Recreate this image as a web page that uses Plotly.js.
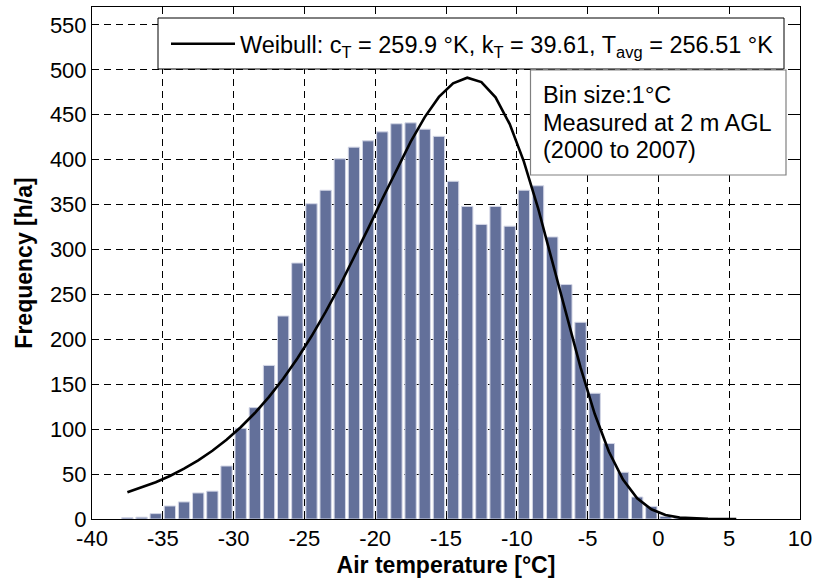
<!DOCTYPE html>
<html><head><meta charset="utf-8">
<script src="https://cdn.plot.ly/plotly-3.0.1.min.js"></script>
<style>html,body{margin:0;padding:0;background:#fff}#chart{width:814px;height:583px}</style>
</head><body><div id="chart"></div>
<script>
// Histogram bins (bin centres, °C) and measured frequency (hours per year)
const binCenters = [-37.5,-36.5,-35.5,-34.5,-33.5,-32.5,-31.5,-30.5,-29.5,-28.5,
  -27.5,-26.5,-25.5,-24.5,-23.5,-22.5,-21.5,-20.5,-19.5,-18.5,
  -17.5,-16.5,-15.5,-14.5,-13.5,-12.5,-11.5,-10.5,-9.5,-8.5,
  -7.5,-6.5,-5.5,-4.5,-3.5,-2.5,-1.5,-0.5,0.5,1.5];
const hoursPerYear = [1.5,2,6,14.5,19,29,31,59,101,124,
  171,226,285,351,366,401,414,421,431,440,
  441,434,426,376,348,328,348,326,366,371,
  314,261,219,140,84,52,24.5,14,3,1];
// Weibull fit curve
const fitTemps = [-37.5,-36.5,-35.5,-34.5,-33.5,-32.5,-31.5,-30.5,-29.5,-28.5,
  -27.5,-26.5,-25.5,-24.5,-23.5,-22.5,-21.5,-20.5,-19.5,-18.5,
  -17.5,-16.5,-15.5,-14.5,-13.5,-12.5,-11.5,-10.5,-9.5,-8.5,
  -7.5,-6.5,-5.5,-4.5,-3.5,-2.5,-1.5,-0.5,0.5,1.5,2.5,3.5,4.5,5.5];
const fitValues = [29.8,35.0,41.0,47.9,56.0,65.2,75.9,88.2,102.2,118.0,
  136.0,156.1,178.6,203.4,230.5,259.7,290.8,323.2,356.2,388.9,
  419.8,447.4,469.9,485.1,491.3,486.4,469.4,439.6,397.9,346.2,
  287.8,227.2,168.8,117.1,75.1,43.9,23.1,10.8,4.4,1.5,0.4,0.1,0,0];
const xTicks = [-40,-35,-30,-25,-20,-15,-10,-5,0,5,10];
const yTicks = [0,50,100,150,200,250,300,350,400,450,500,550];
const legendLabel = 'Weibull: c<sub>T</sub> = 259.9 °K, k<sub>T</sub> = 39.61, T<sub>avg</sub> = 256.51 °K';
const noteLines = ['Bin size:1°C', 'Measured at 2 m AGL', '(2000 to 2007)'];
const xTitle = 'Air temperature [°C]';
const yTitle = 'Frequency [h/a]';

const FONT = 'Liberation Sans, Arial, Helvetica, sans-serif';

// plot-area geometry (pixels) used to place boxes in paper coordinates
const PL = 92, PR = 800, PT = 7, PB = 519;
const px = v => (v - PL) / (PR - PL);
const py = v => (PB - v) / (PB - PT);

const traces = [
  {
    type: 'bar', x: binCenters, y: hoursPerYear, width: 0.8,
    marker: {color: '#63709a', line: {color: '#d3d6e6', width: 1}},
    showlegend: false, hoverinfo: 'x+y'
  },
  {
    type: 'scatter', mode: 'lines', x: fitTemps, y: fitValues,
    name: legendLabel, line: {color: '#000', width: 2.6}
  }
];

const axisCommon = {
  showline: true, linecolor: '#000', linewidth: 1, mirror: 'ticks',
  ticks: 'inside', ticklen: 6, tickcolor: '#000', tickwidth: 1,
  showgrid: true, gridcolor: '#000', gridwidth: 1, griddash: '7px,5px',
  zeroline: false, tickfont: {family: FONT, size: 22, color: '#000'},
  automargin: false, fixedrange: true
};

const noteCentres = [95, 122.5, 149.5];
const annotations = noteLines.map((t, i) => ({
  xref: 'paper', yref: 'paper', x: px(541), y: py(noteCentres[i]),
  xanchor: 'left', yanchor: 'middle', align: 'left',
  text: t, showarrow: false,
  font: {family: FONT, size: 23.5, color: '#000'}
}));

const layout = {
  width: 814, height: 583,
  margin: {l: PL, r: 814 - PR, t: PT, b: 583 - PB},
  paper_bgcolor: '#fff', plot_bgcolor: '#fff',
  font: {family: FONT, color: '#000'},
  bargap: 0,
  xaxis: Object.assign({}, axisCommon, {
    range: [-40, 10], tickmode: 'array', tickvals: xTicks, ticktext: xTicks.map(String),
    title: {text: xTitle, font: {family: FONT, size: 23, weight: 'bold', color: '#000'}, standoff: 6}
  }),
  yaxis: Object.assign({}, axisCommon, {
    range: [0, 570], tickmode: 'array', tickvals: yTicks, ticktext: yTicks.map(String),
    title: {text: yTitle, font: {family: FONT, size: 23, weight: 'bold', color: '#000'}, standoff: 10}
  }),
  legend: {
    x: px(166), y: py(44), xanchor: 'left', yanchor: 'middle',
    itemwidth: 64,
    bgcolor: 'rgba(0,0,0,0)', borderwidth: 0,
    font: {family: FONT, size: 23.5, color: '#000'}
  },
  shapes: [
    {type: 'rect', xref: 'paper', yref: 'paper', layer: 'above',
     x0: px(158), x1: px(784), y0: py(69), y1: py(18),
     line: {color: '#000', width: 1}, fillcolor: '#fff'},
    {type: 'rect', xref: 'paper', yref: 'paper', layer: 'above',
     x0: px(530.5), x1: px(786), y0: py(175), y1: py(70),
     line: {color: '#808080', width: 1.2}, fillcolor: '#fff'}
  ],
  annotations: annotations
};

Plotly.newPlot('chart', traces, layout, {displayModeBar: false, staticPlot: true});
</script>
</body></html>
